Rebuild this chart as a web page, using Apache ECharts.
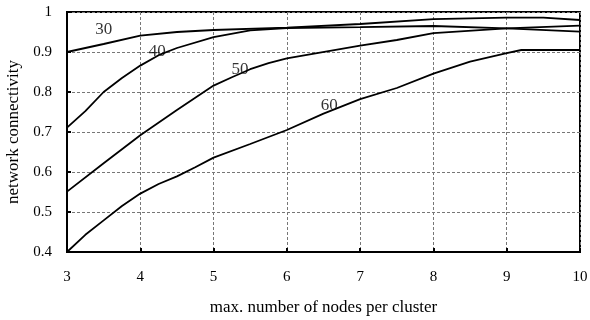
<!DOCTYPE html>
<html>
<head>
<meta charset="utf-8">
<script src="https://cdn.jsdelivr.net/npm/echarts@6/dist/echarts.min.js"></script>
<style>
  html, body { margin: 0; padding: 0; background: #fff; }
  #chart { width: 590px; height: 320px; }
</style>
</head>
<body>
<div id="chart"></div>
<script>
// values, x = max. nodes per cluster
const conn30 = [[3, 0.9], [3.5, 0.92], [4, 0.941], [4.5, 0.95], [5, 0.955], [6, 0.961], [7, 0.97], [8, 0.982], [9, 0.986], [9.5, 0.986], [10, 0.98]];
const conn40 = [[3, 0.711], [3.25, 0.752], [3.5, 0.8], [3.75, 0.835], [4, 0.866], [4.25, 0.892], [4.5, 0.91], [5, 0.937], [5.5, 0.954], [6, 0.96], [7, 0.962], [8, 0.965], [9, 0.959], [10, 0.951]];
const conn50 = [[3, 0.551], [3.5, 0.622], [4, 0.692], [4.5, 0.755], [5, 0.816], [5.25, 0.837], [5.5, 0.857], [5.75, 0.872], [6, 0.884], [7, 0.916], [7.5, 0.93], [8, 0.947], [9, 0.959], [10, 0.966]];
const conn60 = [[3, 0.4], [3.25, 0.443], [3.5, 0.479], [3.75, 0.515], [4, 0.546], [4.25, 0.57], [4.5, 0.589], [4.75, 0.612], [5, 0.636], [5.5, 0.67], [6, 0.705], [6.5, 0.746], [7, 0.782], [7.5, 0.81], [8, 0.846], [8.5, 0.876], [9, 0.897], [9.2, 0.905], [10, 0.905]];
const curveNames = ['30', '40', '50', '60'];
// where the curve names sit, in data units
const labelSpots = [[3.5, 0.957], [4.23, 0.902], [5.36, 0.857], [6.58, 0.767]];

const serif = 'Liberation Serif, Times New Roman, serif';
const chart = echarts.init(document.getElementById('chart'));

function curve(name, data) {
  return {
    name: name,
    type: 'line',
    data: data,
    showSymbol: false,
    symbol: 'none',
    lineStyle: { color: '#000', width: 1.8 },
    z: 3,
  };
}

const option = {
  animation: false,
  grid: {
    left: 67, right: 10, top: 12, bottom: 68,
    outerBoundsMode: 'none',
    show: true,
    borderColor: '#000',
    borderWidth: 2,
  },
  xAxis: {
    type: 'value',
    min: 3, max: 10, interval: 1,
    name: 'max. number of nodes per cluster',
    nameLocation: 'middle',
    nameGap: 47,
    nameTextStyle: { fontFamily: serif, fontSize: 17, color: '#000' },
    axisLine: { lineStyle: { color: '#000', width: 2 } },
    axisTick: { inside: true, length: 4, lineStyle: { color: '#000', width: 2 } },
    axisLabel: { fontFamily: serif, fontSize: 15, color: '#000', margin: 18 },
    splitLine: { lineStyle: { color: '#777', type: [3, 2], width: 1 } },
  },
  yAxis: {
    type: 'value',
    min: 0.4, max: 1, interval: 0.1,
    name: 'network connectivity',
    nameLocation: 'middle',
    nameGap: 44,
    nameTextStyle: { fontFamily: serif, fontSize: 17, color: '#000' },
    axisLine: { lineStyle: { color: '#000', width: 2 } },
    axisTick: { inside: true, length: 4, lineStyle: { color: '#000', width: 2 } },
    axisLabel: { fontFamily: serif, fontSize: 15, color: '#000', margin: 15 },
    splitLine: { lineStyle: { color: '#777', type: [3, 2], width: 1 } },
  },
  series: [
    curve('30', conn30),
    curve('40', conn40),
    curve('50', conn50),
    curve('60', conn60),
    {
      type: 'scatter',
      symbolSize: 0,
      silent: true,
      z: 4,
      data: labelSpots.map((p, i) => ({ value: p, name: curveNames[i] })),
      label: {
        show: true,
        position: 'inside',
        formatter: '{b}',
        fontFamily: serif,
        fontSize: 17,
        color: '#000',
      },
    },
  ],
};
chart.setOption(option);
</script>
</body>
</html>
